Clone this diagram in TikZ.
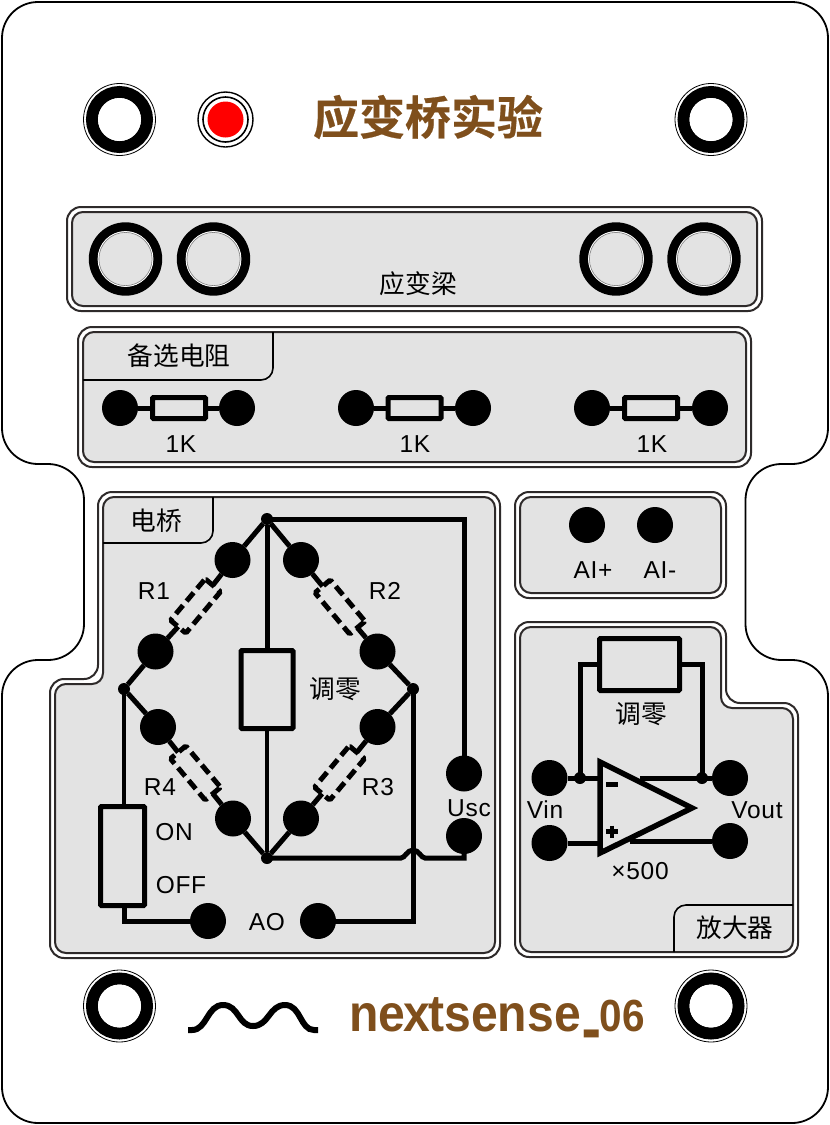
\documentclass[tikz,border=0pt]{standalone}
\usepackage{graphicx}
\usepackage{fontspec}
\setmainfont{Liberation Sans}
\newfontfamily\cjk{Noto Sans CJK SC}
\newfontfamily\cjkb[FakeBold=0.5]{Noto Sans CJK SC Bold}
\newfontfamily\lab[LetterSpace=3]{Liberation Sans}
\newfontfamily\logo{Liberation Sans Bold}
\definecolor{panelgray}{HTML}{E3E3E3}
\definecolor{panelline}{HTML}{2E2A2A}
\definecolor{brown}{HTML}{7F4F1C}
\tikzset{
  x=1pt,y=-1pt,
  board/.style={draw=black,line width=1.8pt,fill=white,rounded corners=36pt},
  outerpanel/.style={draw=panelline,line width=2pt,fill=white,rounded corners=14pt},
  innerpanel/.style={draw=panelline,line width=2pt,fill=panelgray,rounded corners=11pt},
  tabline/.style={draw=black,line width=1.6pt,rounded corners=12pt},
  termdot/.style={circle,fill=black,minimum size=36pt,inner sep=0pt,outer sep=0pt},
  joint/.style={circle,fill=black,minimum size=12pt,inner sep=0pt,outer sep=0pt},
  wire/.style={draw=black,line width=5pt,line join=miter},
  thinwire/.style={draw=black,line width=4.4pt},
  resbox/.style={draw=black,line width=5pt,fill=panelgray,rectangle,rounded corners=1pt,inner sep=0pt,outer sep=0pt},
  straingauge/.style={draw=black,line width=5pt,fill=panelgray,rectangle,rounded corners=1.5pt,inner sep=0pt,outer sep=0pt,dash pattern=on 11pt off 5.5pt,minimum width=54pt,minimum height=20pt},
  txt/.style={inner sep=0pt,font=\lab\fontsize{24.5}{25}\selectfont},
  cjktxt/.style={inner sep=0pt,font=\cjk\fontsize{25.7}{26}\selectfont},
  jack/.pic={
    \fill[white] (0,0) circle (36.5);
    \draw[black,line width=0.8pt] (0,0) circle (36);
    \draw[black,line width=12pt] (0,0) circle (27.5);
    \fill[white] (0,0) circle (21.5);
  },
  bigjack/.pic={
    \draw[black,line width=9pt] (0,0) circle (32.2);
    \draw[white,line width=1pt] (0,0) circle (27.4);
    \draw[gray,line width=0.6pt] (0,0) circle (26.6);
  },
}
\begin{document}
\begin{tikzpicture}
\useasboundingbox (0,0) rectangle (830,1125);
% board
\path[board] (2,2) -- (828,2) -- (828,464) -- (745.5,464) -- (745.5,660) -- (828,660) -- (828,1123) -- (2,1123) -- (2,660) -- (84,660) -- (84,464) -- (2,464) -- cycle;
% mounting jacks
\pic at (119.5,119.5) {jack};
\pic at (711,119.5) {jack};
\pic at (119.5,1006) {jack};
\pic at (711,1006) {jack};
% LED
\draw[black,line width=1.4pt] (225.5,119.5) circle (27.5);
\draw[black,line width=1.6pt] (225.5,119.5) circle (22.5);
\fill[red] (225.5,119.5) circle (18);
\node[inner sep=0pt,text=brown,font=\cjkb\fontsize{46}{46}\selectfont] (title) at (428,117) {应变桥实验};
% beam panel
\path[outerpanel] (67,207) -- (762,207) -- (762,311) -- (67,311) -- cycle;
\path[innerpanel] (72,212) -- (757,212) -- (757,306) -- (72,306) -- cycle;
\pic at (125.5,259) {bigjack};
\pic at (213.5,259) {bigjack};
\pic at (616,259) {bigjack};
\pic at (704,259) {bigjack};
\node[cjktxt] (beam) at (418.5,284) {应变梁};
% spare resistors
\path[outerpanel] (78,327) -- (751,327) -- (751,467) -- (78,467) -- cycle;
\path[innerpanel] (83,332) -- (746,332) -- (746,462) -- (83,462) -- cycle;
\draw[tabline] (83,380) -- (273,380) -- (273,332);
\node[cjktxt] (sparet) at (179,356) {备选电阻};
\foreach \nm/\xa/\xb/\xm/\xl in {a/120/237/179/181,b/356/473/414.5/415,c/592/710/651/652}{
  \node[termdot] (\nm1) at (\xa,408) {};
  \node[termdot] (\nm2) at (\xb,408) {};
  \node[resbox,minimum width=53pt,minimum height=21pt] (\nm r) at (\xm,408) {};
  \draw[wire] (\nm1) -- (\nm r);
  \draw[wire] (\nm r) -- (\nm2);
  \node[txt] (\nm k) at (\xl,444) {1K};
}
% bridge panel
\path[outerpanel] (98,492) -- (500,492) -- (500,958) -- (50,958) -- (50,679) -- (98,679) -- cycle;
\path[innerpanel] (103,497) -- (495,497) -- (495,953) -- (55,953) -- (55,684) -- (103,684) -- cycle;
\draw[tabline] (103,543) -- (213,543) -- (213,497);
\node[cjktxt] (bridget) at (156,521) {电桥};
\node[joint] (top) at (267,519) {};
\node[joint] (bot) at (267,858) {};
\node[joint] (lft) at (124,689) {};
\node[joint] (rgt) at (413,689) {};
\node[termdot] (t1) at (232.5,560) {};
\node[termdot] (t2) at (155.5,651.5) {};
\node[termdot] (t3) at (301,560) {};
\node[termdot] (t4) at (377.5,651.5) {};
\node[termdot] (t5) at (158,727) {};
\node[termdot] (t6) at (233,818.5) {};
\node[termdot] (t7) at (377.5,727) {};
\node[termdot] (t8) at (301,818.5) {};
\node[termdot] (us1) at (464,773.5) {};
\node[termdot] (us2) at (464,836) {};
\node[termdot] (ao1) at (208,921) {};
\node[termdot] (ao2) at (318,921) {};
\node[straingauge,rotate=50] (r1) at (195.5,606) {};
\node[straingauge,rotate=-50] (r2) at (340,607) {};
\node[straingauge,rotate=50] (r3) at (339.5,773) {};
\node[straingauge,rotate=-50] (r4) at (195.5,773) {};
\node[resbox,minimum width=52pt,minimum height=78pt] (zero) at (267,689.5) {};
\node[resbox,minimum width=44pt,minimum height=99pt] (sw) at (122.5,856) {};
\draw[wire] (top) -- (t1);
\draw[wire] (top) -- (t3);
\draw[wire] (lft) -- (t2);
\draw[wire] (rgt) -- (t4);
\draw[wire] (lft) -- (t5);
\draw[wire] (rgt) -- (t7);
\draw[wire] (bot) -- (t6);
\draw[wire] (bot) -- (t8);
\draw[wire] (t1) -- (r1.east);
\draw[wire] (r1.west) -- (t2);
\draw[wire] (t3) -- (r2.west);
\draw[wire] (r2.east) -- (t4);
\draw[wire] (t7) -- (r3.east);
\draw[wire] (r3.west) -- (t8);
\draw[wire] (t5) -- (r4.west);
\draw[wire] (r4.east) -- (t6);
\draw[wire] (top) -- (zero);
\draw[thinwire] (zero) -- (bot);
\draw[wire] (top.center) -| (us1.center);
\coordinate (hopa) at (401,858);
\coordinate (hopb) at (425,858);
\coordinate (swtop) at (124,806);
\coordinate (swbot) at (124,906);
\draw[wire] (bot.center) -- (hopa) .. controls (405,858) and (407,850) .. (413,850) .. controls (419,850) and (421,858) .. (hopb) -| (us2.center);
\draw[thinwire] (lft.center) -- (swtop);
\draw[wire] (swbot) |- (ao1.center);
\draw[wire] (rgt.center) |- (ao2.center);
\node[txt] (lr1) at (154,591) {R1};
\node[txt] (lr2) at (385,591) {R2};
\node[txt] (lr4) at (160,787) {R4};
\node[txt] (lr3) at (378,787) {R3};
\node[cjktxt] (lz) at (335,689) {调零};
\node[txt] (lon) at (174,832) {ON};
\node[txt] (loff) at (181,885) {OFF};
\node[txt] (lao) at (267,922) {AO};
\node[txt] (lus) at (469,808) {Usc};
% AI panel
\path[outerpanel] (515,492) -- (726,492) -- (726,598) -- (515,598) -- cycle;
\path[innerpanel] (520,497) -- (721,497) -- (721,593) -- (520,593) -- cycle;
\node[termdot] (aip) at (587,525) {};
\node[termdot] (aim) at (655,525) {};
\node[txt] (laip) at (593,570) {AI+};
\node[txt] (laim) at (660,570) {AI-};
% amplifier panel
\path[outerpanel] (515,622) -- (726,622) -- (726,703) -- (798,703) -- (798,957) -- (515,957) -- cycle;
\path[innerpanel] (520,627) -- (721,627) -- (721,708) -- (793,708) -- (793,952) -- (520,952) -- cycle;
\draw[tabline] (674,952) -- (674,905) -- (793,905);
\node[cjktxt] (lamp) at (735,928) {放大器};
\node[termdot] (vi1) at (549.5,778) {};
\node[termdot] (vi2) at (549.5,843) {};
\node[termdot] (vo1) at (730,778) {};
\node[termdot] (vo2) at (730,841) {};
\node[joint] (j1) at (580,778) {};
\node[joint] (j2) at (702,778) {};
\node[resbox,minimum width=80pt,minimum height=52pt] (az) at (639.5,664.5) {};
\coordinate (opin1) at (601,778);
\coordinate (opin2) at (601,843);
\coordinate (opout1) at (640,778);
\coordinate (opout2) at (630,841);
\coordinate (ttl) at (600,762);
\coordinate (tap) at (692,808);
\coordinate (tbl) at (600,853);
\draw[wire] (az.west) -| (j1.center);
\draw[wire] (az.east) -| (j2.center);
\draw[wire] (vi1) -- (opin1);
\draw[wire] (vi2) -- (opin2);
\draw[wire] (opout1) -- (vo1);
\draw[wire] (opout2) -- (vo2);
\draw[black,line width=5.5pt,fill=panelgray,line join=miter,miter limit=3] (ttl) -- (tap) -- (tbl) -- cycle;
\draw[black,line width=5pt] (606,784.5) -- (618,784.5);
\draw[black,line width=4.5pt] (606,831.5) -- (618,831.5);
\draw[black,line width=4.5pt] (612,825.5) -- (612,837.5);
\node[cjktxt] (laz) at (641,714) {调零};
\node[txt] (lvin) at (545,810) {Vin};
\node[txt] (lvout) at (757,810) {Vout};
\node[txt] (lx) at (640,871) {×500};
% logo
\draw[black,line width=6pt] (188,1030) -- (192,1030) .. controls (207,1030) and (207,1005) .. (223,1005) .. controls (239,1005) and (238,1026) .. (253,1026) .. controls (269,1026) and (269,1005) .. (285,1005) .. controls (301,1005) and (300,1030) .. (314,1030) -- (318,1030);
\node[inner sep=0pt,anchor=base west,text=brown,font=\logo\fontsize{52}{52}\selectfont] (logot) at (349,1031.5) {\scalebox{0.925}[1]{ne\kern-2pt x\kern-2pt tsense}\kern4pt\raisebox{19.3pt}{\scalebox{0.5}[4]{\_}}\kern0.5pt{\fontsize{45}{45}\selectfont\scalebox{0.9}[1]{06}}};
\end{tikzpicture}
\end{document}
